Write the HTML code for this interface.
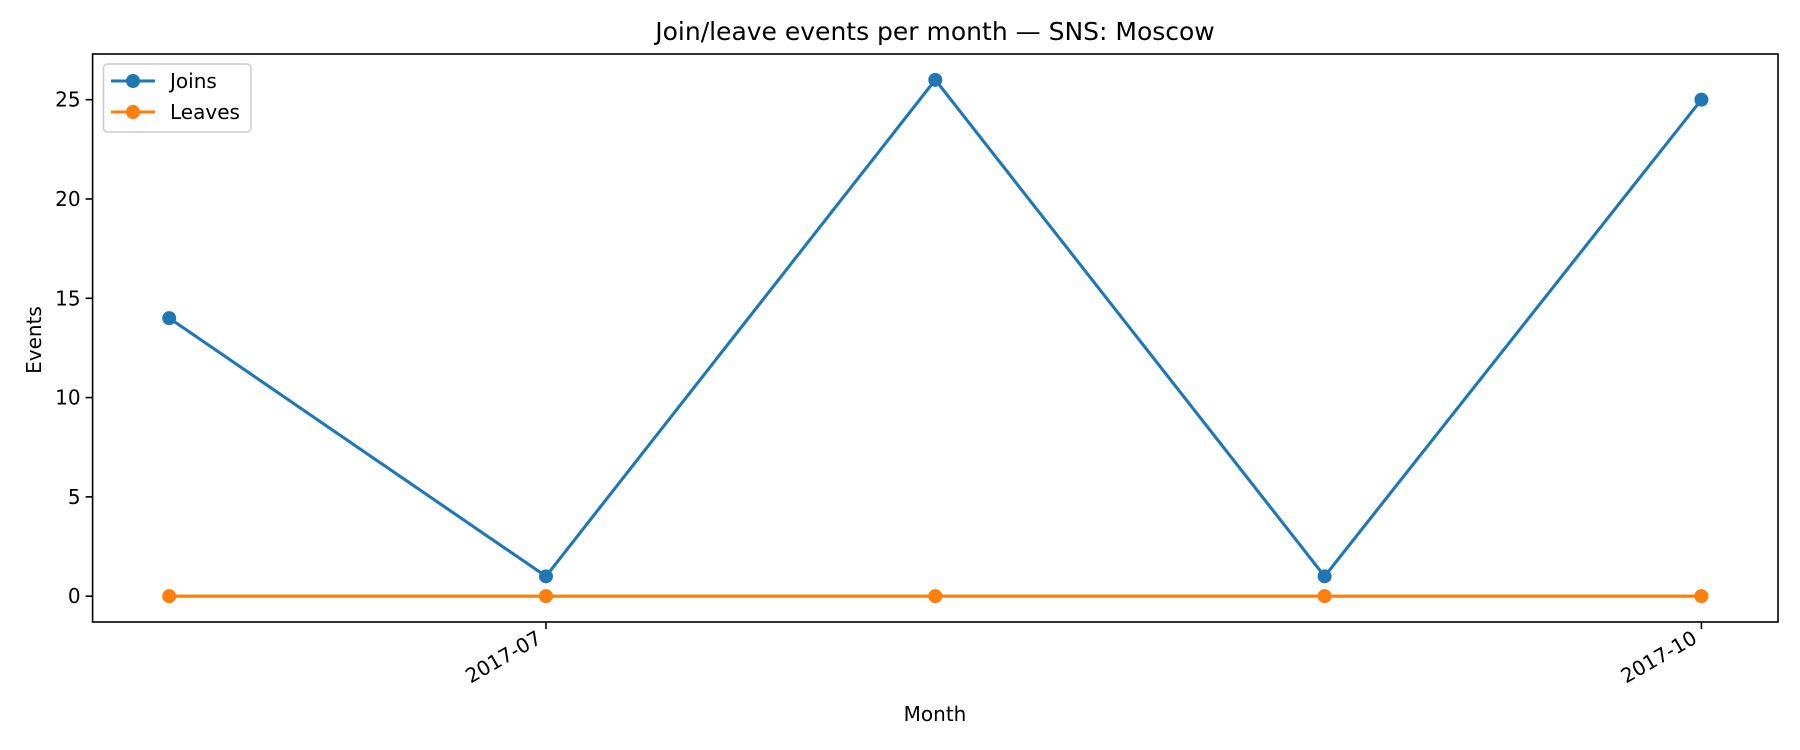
<!DOCTYPE html>
<html><head><meta charset="utf-8"><style>
body{margin:0;background:#fff}
svg{display:block;font-family:"DejaVu Sans","Liberation Sans",sans-serif}
</style></head><body>
<svg id="chart" width="1800" height="750">
<rect width="1800" height="750" fill="#fff"/>
<text x="935" y="40" font-size="25" text-anchor="middle">Join/leave events per month — SNS: Moscow</text>
<g id="plot"></g>
<text x="935" y="721" font-size="20" text-anchor="middle">Month</text>
<text transform="translate(41,340) rotate(-90)" font-size="20" text-anchor="middle">Events</text>
</svg>
<script>
const months = ["2017-06-01","2017-07-01","2017-08-01","2017-09-01","2017-10-01"];
const joins = [14, 1, 26, 1, 25];
const leaves = [0, 0, 0, 0, 0];
const yTicks = [0, 5, 10, 15, 20, 25];
const xTickLabels = ["2017-07", "2017-10"];

const L=92.6, R=1778, T=54, B=622;
const ns="http://www.w3.org/2000/svg";
const days = d => Date.parse(d)/86400000;
const d0 = days(months[0]), d1 = days(months[months.length-1]);
const pad = (d1-d0)*0.05;
const xmin=d0-pad, xmax=d1+pad;
const allY = joins.concat(leaves);
const ylo=Math.min(...allY), yhi=Math.max(...allY), yp=(yhi-ylo)*0.05;
const ymin=ylo-yp, ymax=yhi+yp;
const x = d => L+(days(d)-xmin)/(xmax-xmin)*(R-L);
const y = v => B-(v-ymin)/(ymax-ymin)*(B-T);
const g=document.getElementById('plot');
function mk(t,a){const e=document.createElementNS(ns,t);for(const k in a)e.setAttribute(k,a[k]);g.appendChild(e);return e;}

yTicks.forEach(v=>{
  const t=mk('line',{x1:L-7,x2:L,y1:y(v),y2:y(v),stroke:'#000','stroke-width':1.6});
  
  
  const l=mk('text',{x:L-12,y:y(v)+7,'font-size':20,'text-anchor':'end'});
  l.textContent=v;
  
  
});
xTickLabels.forEach(s=>{
  const px=x(s+"-01");
  const t=mk('line',{x1:px,x2:px,y1:B,y2:B+7,stroke:'#000','stroke-width':1.6});
  
  
  const l=mk('text',{transform:`translate(${px-3},${B+20}) rotate(-30)`,'font-size':20,'text-anchor':'end'});
  l.textContent=s;
  
  
});

function series(vals,color,name){
  const pts=months.map((m,i)=>x(m)+','+y(vals[i])).join(' ');
  const p=mk('polyline',{points:pts,fill:'none',stroke:color,'stroke-width':3.1});
  
  
  months.forEach((m,i)=>{
    const c=mk('circle',{cx:x(m),cy:y(vals[i]),r:7,fill:color});
    
    
  });
}
series(joins,'#1f77b4','joins');
series(leaves,'#ff7f0e','leaves');

const frame=mk('rect',{x:L,y:T,width:R-L,height:B-T,fill:'none',stroke:'#000','stroke-width':1.6});



const lg=mk('rect',{x:103.5,y:64,width:147.5,height:68,rx:4,fill:'#fff','fill-opacity':0.8,stroke:'#ccc','stroke-width':1.5});


[['Joins','#1f77b4',81],['Leaves','#ff7f0e',112]].forEach(([n,c,yy])=>{
  const ln=mk('line',{x1:111,x2:155,y1:yy,y2:yy,stroke:c,'stroke-width':3.1});
  
  
  const ci=mk('circle',{cx:133,cy:yy,r:7,fill:c});
  
  
  const t=mk('text',{x:170,y:yy+7,'font-size':20});
  t.textContent=n;
  
  
});
</script>
</body></html>
